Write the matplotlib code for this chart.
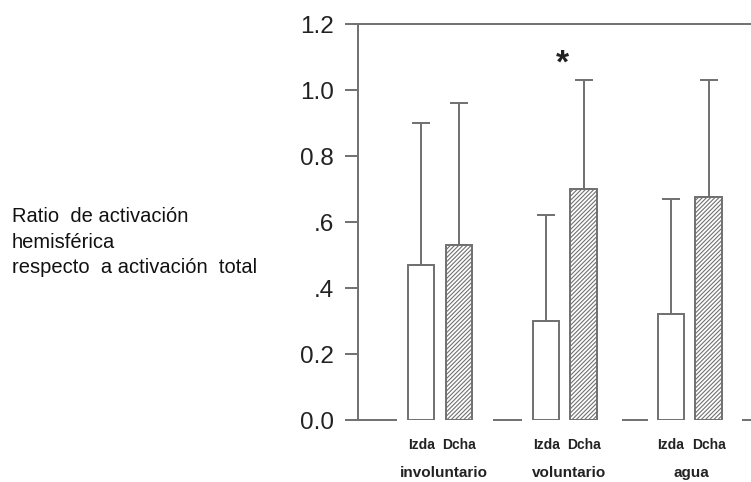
import numpy as np
import matplotlib
matplotlib.use("Agg")
import matplotlib.pyplot as plt
from matplotlib import transforms

# data
groups = ["involuntario", "voluntario", "agua"]
sides = ["Izda", "Dcha"]
izda = [0.47, 0.30, 0.32]
dcha = [0.53, 0.70, 0.675]
izda_err = [0.43, 0.32, 0.35]
dcha_err = [0.43, 0.33, 0.355]
yticks = [0.0, 0.2, 0.4, 0.6, 0.8, 1.0, 1.2]
ytick_labels = ["0.0", "0.2", ".4", ".6", "0.8", "1.0", "1.2"]

grey = "#707070"
plt.rcParams["hatch.linewidth"] = 0.8
plt.rcParams["font.family"] = ["Liberation Sans", "DejaVu Sans"]

fig = plt.figure(figsize=(7.51, 4.82), dpi=100)
ax = fig.add_axes([0.4767, 0.1286, 0.5233, 0.8216])

x = np.arange(len(groups)) * 1.0
off = 0.15
w = 0.21

ax.bar(x - off, izda, w, color="white", edgecolor=grey, linewidth=1.4,
       yerr=[np.zeros(3), izda_err], ecolor=grey,
       error_kw=dict(capsize=6.5, elinewidth=1.4, capthick=1.4), zorder=3)
ax.bar(x + off, dcha, w, color="white", edgecolor=grey, linewidth=1.4,
       hatch="////////",
       yerr=[np.zeros(3), dcha_err], ecolor=grey,
       error_kw=dict(capsize=6.5, elinewidth=1.4, capthick=1.4), zorder=3)

# broken baseline pieces between the groups
for a, b in [(-0.66, -0.344), (0.424, 0.656), (1.456, 1.664), (2.416, 2.5)]:
    ax.hlines(0, a, b, color=grey, linewidth=1.4, clip_on=False, zorder=2)

ax.text(0.98, 1.08, "*", fontsize=24, weight="bold", ha="center", va="center",
        color="#222222")

ax.set_xlim(-0.656, 2.49)
ax.set_ylim(0, 1.2)
ax.set_yticks(yticks)
ax.set_yticklabels(ytick_labels, fontsize=17.5, color="#222222")
ax.tick_params(axis="y", length=9.5, width=1.4, color=grey, pad=8)

centers = np.concatenate([x - off, x + off])
names = [sides[0]] * 3 + [sides[1]] * 3
ax.set_xticks(centers)
ax.set_xticklabels(names, fontsize=10, color="#222222", weight="bold")
ax.tick_params(axis="x", length=0, pad=13)

trans = transforms.blended_transform_factory(ax.transData, ax.transAxes)
for gx, g in zip(x + np.array([0.03, 0.03, 0.01]), groups):
    ax.text(gx, -0.134, g, transform=trans, ha="center", va="center",
            fontsize=11, color="#222222", weight="bold")

for s in ["right", "bottom"]:
    ax.spines[s].set_visible(False)
for s in ["left", "top"]:
    ax.spines[s].set_color(grey)
    ax.spines[s].set_linewidth(1.4)

fig.text(12 / 751, 1 - 242 / 482,
         "Ratio  de activación\nhemisférica\nrespecto  a activación  total",
         ha="left", va="center", fontsize=14.5, linespacing=1.45, color="#111111")

fig.savefig("out.png", dpi=100)
